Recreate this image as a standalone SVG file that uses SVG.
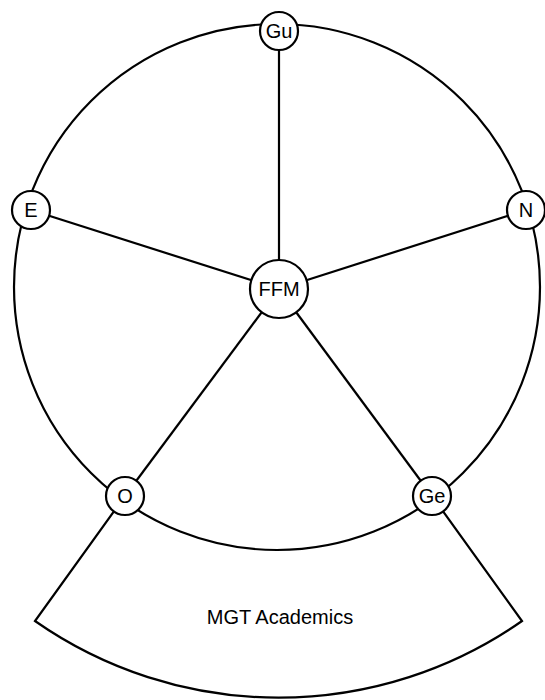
<svg xmlns="http://www.w3.org/2000/svg" width="545" height="700" viewBox="0 0 545 700">
  <style>
    .edge { fill: none; stroke: #000; stroke-width: 2.2; }
    .node circle { fill: #fff; stroke: #000; stroke-width: 2.2; }
    .label { font-family: "Liberation Sans", Arial, sans-serif; font-size: 20px; fill: #000; text-anchor: middle; dominant-baseline: central; }
  </style>
  <rect width="545" height="700" fill="#fff"/>

  <!-- outer ring, sector and spokes -->
  <g id="connectors">
    <circle class="edge" cx="277" cy="287" r="263"/>
    <path class="edge" d="M125 496 L35 621 A425 425 0 0 0 522 621 L432 496"/>
    <line class="edge" x1="279" y1="289" x2="279" y2="31"/>
    <line class="edge" x1="279" y1="289" x2="31" y2="210"/>
    <line class="edge" x1="279" y1="289" x2="526" y2="210"/>
    <line class="edge" x1="279" y1="289" x2="125" y2="496"/>
    <line class="edge" x1="279" y1="289" x2="432" y2="496"/>
  </g>

  <g id="node-gu" class="node">
    <circle cx="279" cy="31" r="19"/>
    <text class="label" x="279" y="31">Gu</text>
  </g>
  <g id="node-e" class="node">
    <circle cx="31" cy="210" r="19"/>
    <text class="label" x="31" y="210">E</text>
  </g>
  <g id="node-n" class="node">
    <circle cx="526" cy="210" r="19"/>
    <text class="label" x="526" y="210">N</text>
  </g>
  <g id="node-ffm" class="node">
    <circle cx="279" cy="289" r="29"/>
    <text class="label" x="279" y="289">FFM</text>
  </g>
  <g id="node-o" class="node">
    <circle cx="125" cy="496" r="19"/>
    <text class="label" x="125" y="496">O</text>
  </g>
  <g id="node-ge" class="node">
    <circle cx="432" cy="496" r="19"/>
    <text class="label" x="432" y="496">Ge</text>
  </g>

  <g id="sector-label">
    <text class="label" x="280" y="617">MGT Academics</text>
  </g>
</svg>
